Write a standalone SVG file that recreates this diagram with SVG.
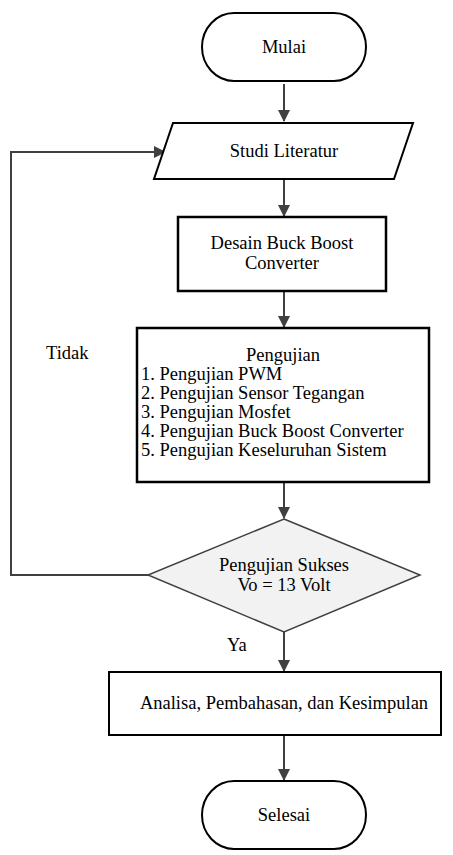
<svg xmlns="http://www.w3.org/2000/svg" width="453" height="855" viewBox="0 0 453 855">
<style>
text{font-family:"Liberation Serif","Times New Roman",serif;font-size:18.5px;fill:#000}
.c{text-anchor:middle}
.shape{fill:#fff;stroke:#000;stroke-width:2}
.thick{fill:#fff;stroke:#000;stroke-width:2.5}
.conn{fill:none;stroke:#404040;stroke-width:2}
</style>
<defs>
<marker id="ah" markerWidth="12" markerHeight="12" refX="11" refY="6" orient="auto" markerUnits="userSpaceOnUse">
<path d="M0,0 L12,6 L0,12 Z" fill="#404040"/>
</marker>
</defs>
<rect width="453" height="855" fill="#fff"/>
<g id="connectors">
<line class="conn" x1="284" y1="84" x2="284" y2="121" marker-end="url(#ah)"/>
<line class="conn" x1="284" y1="180" x2="284" y2="216" marker-end="url(#ah)"/>
<line class="conn" x1="284" y1="291" x2="284" y2="327" marker-end="url(#ah)"/>
<line class="conn" x1="284" y1="483" x2="284" y2="518" marker-end="url(#ah)"/>
<line class="conn" x1="284" y1="632" x2="284" y2="671" marker-end="url(#ah)"/>
<line class="conn" x1="284" y1="736" x2="284" y2="780" marker-end="url(#ah)"/>
<polyline class="conn" points="148,575 11,575 11,152 165,152" marker-end="url(#ah)"/>
<text x="46" y="359">Tidak</text>
<text x="227" y="651">Ya</text>
</g>
<g id="mulai">
<rect class="shape" x="202" y="13" width="164" height="68" rx="32" ry="34"/>
<text class="c" x="284" y="53">Mulai</text>
</g>
<g id="studi">
<polygon class="shape" points="173,123 413,123 394,179 154,179" stroke-width="1.5"/>
<text class="c" x="284" y="157">Studi Literatur</text>
</g>
<g id="desain">
<rect class="thick" x="178" y="217" width="208" height="74"/>
<text class="c" x="282" y="249">Desain Buck Boost</text>
<text class="c" x="282" y="269">Converter</text>
</g>
<g id="pengujian">
<rect class="thick" x="137" y="328" width="292" height="154"/>
<text class="c" x="283" y="361">Pengujian</text>
<text x="141" y="380">1. Pengujian PWM</text>
<text x="141" y="399">2. Pengujian Sensor Tegangan</text>
<text x="141" y="418">3. Pengujian Mosfet</text>
<text x="141" y="437">4. Pengujian Buck Boost Converter</text>
<text x="141" y="456">5. Pengujian Keseluruhan Sistem</text>
</g>
<g id="keputusan">
<polygon points="284,519 420,575 284,632 148,575" fill="#f2f2f2" stroke="#404040" stroke-width="1.5"/>
<text class="c" x="284" y="571">Pengujian Sukses</text>
<text class="c" x="284" y="591">Vo = 13 Volt</text>
</g>
<g id="analisa">
<rect class="shape" x="109" y="672" width="332" height="63"/>
<text class="c" x="284" y="709">Analisa, Pembahasan, dan Kesimpulan</text>
</g>
<g id="selesai">
<rect class="shape" x="202" y="781" width="164" height="68" rx="32" ry="34"/>
<text class="c" x="284" y="821">Selesai</text>
</g>
</svg>
